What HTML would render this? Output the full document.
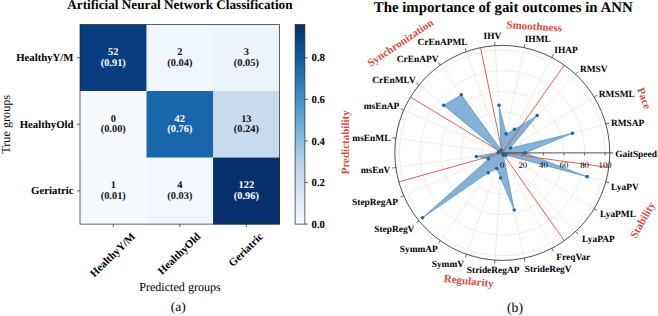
<!DOCTYPE html><html><head><meta charset="utf-8"><title>Figure</title>
<style>html,body{margin:0;padding:0;background:#fff}svg{display:block}text{font-family:"Liberation Serif","Times New Roman",serif;text-rendering:geometricPrecision;}</style></head><body>
<svg width="658" height="316" viewBox="0 0 658 316">
<rect width="658" height="316" fill="#fff"/>
<defs><linearGradient id="cb" x1="0" y1="1" x2="0" y2="0">
<stop offset="0%" stop-color="#f7fbff"/>
<stop offset="10%" stop-color="#e3eef9"/>
<stop offset="20%" stop-color="#d0e1f2"/>
<stop offset="30%" stop-color="#b7d4ea"/>
<stop offset="40%" stop-color="#94c4df"/>
<stop offset="50%" stop-color="#6aaed6"/>
<stop offset="60%" stop-color="#4a98c9"/>
<stop offset="70%" stop-color="#2e7ebc"/>
<stop offset="80%" stop-color="#1764ab"/>
<stop offset="90%" stop-color="#084a91"/>
<stop offset="100%" stop-color="#08306b"/>
</linearGradient></defs>
<rect x="80.00" y="24.50" width="66.83" height="66.83" fill="#083d7f"/>
<rect x="146.53" y="24.50" width="66.83" height="66.83" fill="#eff6fc"/>
<rect x="213.07" y="24.50" width="66.83" height="66.83" fill="#edf4fc"/>
<rect x="80.00" y="91.03" width="66.83" height="66.83" fill="#f7fbff"/>
<rect x="146.53" y="91.03" width="66.83" height="66.83" fill="#1966ad"/>
<rect x="213.07" y="91.03" width="66.83" height="66.83" fill="#c6dbef"/>
<rect x="80.00" y="157.57" width="66.83" height="66.83" fill="#f5fafe"/>
<rect x="146.53" y="157.57" width="66.83" height="66.83" fill="#f1f7fd"/>
<rect x="213.07" y="157.57" width="66.83" height="66.83" fill="#08306b"/>
<rect x="80.0" y="24.5" width="199.6" height="199.6" fill="none" stroke="#222" stroke-width="0.7"/>
<text x="113.27" y="55.27" text-anchor="middle" font-size="10.4" font-weight="bold" fill="#fff">52</text>
<text x="113.27" y="65.87" text-anchor="middle" font-size="10.4" font-weight="bold" fill="#fff">(0.91)</text>
<text x="179.80" y="55.27" text-anchor="middle" font-size="10.4" font-weight="bold" fill="#111">2</text>
<text x="179.80" y="65.87" text-anchor="middle" font-size="10.4" font-weight="bold" fill="#111">(0.04)</text>
<text x="246.33" y="55.27" text-anchor="middle" font-size="10.4" font-weight="bold" fill="#111">3</text>
<text x="246.33" y="65.87" text-anchor="middle" font-size="10.4" font-weight="bold" fill="#111">(0.05)</text>
<text x="113.27" y="121.80" text-anchor="middle" font-size="10.4" font-weight="bold" fill="#111">0</text>
<text x="113.27" y="132.40" text-anchor="middle" font-size="10.4" font-weight="bold" fill="#111">(0.00)</text>
<text x="179.80" y="121.80" text-anchor="middle" font-size="10.4" font-weight="bold" fill="#fff">42</text>
<text x="179.80" y="132.40" text-anchor="middle" font-size="10.4" font-weight="bold" fill="#fff">(0.76)</text>
<text x="246.33" y="121.80" text-anchor="middle" font-size="10.4" font-weight="bold" fill="#111">13</text>
<text x="246.33" y="132.40" text-anchor="middle" font-size="10.4" font-weight="bold" fill="#111">(0.24)</text>
<text x="113.27" y="188.33" text-anchor="middle" font-size="10.4" font-weight="bold" fill="#111">1</text>
<text x="113.27" y="198.93" text-anchor="middle" font-size="10.4" font-weight="bold" fill="#111">(0.01)</text>
<text x="179.80" y="188.33" text-anchor="middle" font-size="10.4" font-weight="bold" fill="#111">4</text>
<text x="179.80" y="198.93" text-anchor="middle" font-size="10.4" font-weight="bold" fill="#111">(0.03)</text>
<text x="246.33" y="188.33" text-anchor="middle" font-size="10.4" font-weight="bold" fill="#fff">122</text>
<text x="246.33" y="198.93" text-anchor="middle" font-size="10.4" font-weight="bold" fill="#fff">(0.96)</text>
<line x1="77.0" y1="57.77" x2="80.0" y2="57.77" stroke="#222" stroke-width="0.7"/>
<line x1="113.27" y1="224.1" x2="113.27" y2="227.1" stroke="#222" stroke-width="0.7"/>
<text x="73.50" y="61.37" text-anchor="end" font-size="10.75" font-weight="bold" fill="#000">HealthyY/M</text>
<text transform="translate(135.93,237.30) rotate(-44)" text-anchor="end" font-size="10.9" font-weight="bold" fill="#000">HealthyY/M</text>
<line x1="77.0" y1="124.30" x2="80.0" y2="124.30" stroke="#222" stroke-width="0.7"/>
<line x1="179.80" y1="224.1" x2="179.80" y2="227.1" stroke="#222" stroke-width="0.7"/>
<text x="73.50" y="127.90" text-anchor="end" font-size="10.75" font-weight="bold" fill="#000">HealthyOld</text>
<text transform="translate(201.20,237.30) rotate(-44)" text-anchor="end" font-size="10.9" font-weight="bold" fill="#000">HealthyOld</text>
<line x1="77.0" y1="190.83" x2="80.0" y2="190.83" stroke="#222" stroke-width="0.7"/>
<line x1="246.33" y1="224.1" x2="246.33" y2="227.1" stroke="#222" stroke-width="0.7"/>
<text x="73.50" y="194.43" text-anchor="end" font-size="10.75" font-weight="bold" fill="#000">Geriatric</text>
<text transform="translate(263.71,237.30) rotate(-44)" text-anchor="end" font-size="10.9" font-weight="bold" fill="#000">Geriatric</text>
<text x="179.9" y="9.4" text-anchor="middle" font-size="13.2" font-weight="bold" fill="#000">Artificial Neural Network Classification</text>
<text transform="translate(9.8,124.3) rotate(-90)" text-anchor="middle" font-size="12.2" fill="#000">True groups</text>
<text x="180" y="291" text-anchor="middle" font-size="12.1" fill="#000">Predicted groups</text>
<text x="178.2" y="311" text-anchor="middle" font-size="13.5" fill="#000">(a)</text>
<rect x="295.1" y="24.5" width="9.799999999999955" height="199.6" fill="url(#cb)" stroke="#222" stroke-width="0.7"/>
<line x1="304.9" y1="224.10" x2="307.9" y2="224.10" stroke="#222" stroke-width="0.7"/>
<text x="311.5" y="227.80" font-size="10.75" font-weight="bold" fill="#000">0.0</text>
<line x1="304.9" y1="182.52" x2="307.9" y2="182.52" stroke="#222" stroke-width="0.7"/>
<text x="311.5" y="186.22" font-size="10.75" font-weight="bold" fill="#000">0.2</text>
<line x1="304.9" y1="140.93" x2="307.9" y2="140.93" stroke="#222" stroke-width="0.7"/>
<text x="311.5" y="144.63" font-size="10.75" font-weight="bold" fill="#000">0.4</text>
<line x1="304.9" y1="99.35" x2="307.9" y2="99.35" stroke="#222" stroke-width="0.7"/>
<text x="311.5" y="103.05" font-size="10.75" font-weight="bold" fill="#000">0.6</text>
<line x1="304.9" y1="57.77" x2="307.9" y2="57.77" stroke="#222" stroke-width="0.7"/>
<text x="311.5" y="61.47" font-size="10.75" font-weight="bold" fill="#000">0.8</text>
<circle cx="502.3" cy="152.9" r="20.56" fill="none" stroke="#e3e3e3" stroke-width="0.6"/>
<circle cx="502.3" cy="152.9" r="41.12" fill="none" stroke="#e3e3e3" stroke-width="0.6"/>
<circle cx="502.3" cy="152.9" r="61.68" fill="none" stroke="#e3e3e3" stroke-width="0.6"/>
<circle cx="502.3" cy="152.9" r="82.24" fill="none" stroke="#e3e3e3" stroke-width="0.6"/>
<circle cx="502.3" cy="152.9" r="102.80" fill="none" stroke="#e3e3e3" stroke-width="0.6"/>
<line x1="502.3" y1="152.9" x2="605.81" y2="123.90" stroke="#e3e3e3" stroke-width="0.6"/>
<line x1="502.3" y1="152.9" x2="594.15" y2="97.04" stroke="#e3e3e3" stroke-width="0.6"/>
<line x1="502.3" y1="152.9" x2="575.67" y2="74.34" stroke="#e3e3e3" stroke-width="0.6"/>
<line x1="502.3" y1="152.9" x2="551.76" y2="57.45" stroke="#e3e3e3" stroke-width="0.6"/>
<line x1="502.3" y1="152.9" x2="524.17" y2="47.65" stroke="#e3e3e3" stroke-width="0.6"/>
<line x1="502.3" y1="152.9" x2="494.96" y2="45.65" stroke="#e3e3e3" stroke-width="0.6"/>
<line x1="502.3" y1="152.9" x2="466.30" y2="51.61" stroke="#e3e3e3" stroke-width="0.6"/>
<line x1="502.3" y1="152.9" x2="440.31" y2="65.08" stroke="#e3e3e3" stroke-width="0.6"/>
<line x1="502.3" y1="152.9" x2="418.91" y2="85.06" stroke="#e3e3e3" stroke-width="0.6"/>
<line x1="502.3" y1="152.9" x2="403.70" y2="110.07" stroke="#e3e3e3" stroke-width="0.6"/>
<line x1="502.3" y1="152.9" x2="395.80" y2="138.26" stroke="#e3e3e3" stroke-width="0.6"/>
<line x1="502.3" y1="152.9" x2="395.80" y2="167.54" stroke="#e3e3e3" stroke-width="0.6"/>
<line x1="502.3" y1="152.9" x2="403.70" y2="195.73" stroke="#e3e3e3" stroke-width="0.6"/>
<line x1="502.3" y1="152.9" x2="418.91" y2="220.74" stroke="#e3e3e3" stroke-width="0.6"/>
<line x1="502.3" y1="152.9" x2="440.31" y2="240.72" stroke="#e3e3e3" stroke-width="0.6"/>
<line x1="502.3" y1="152.9" x2="466.30" y2="254.19" stroke="#e3e3e3" stroke-width="0.6"/>
<line x1="502.3" y1="152.9" x2="494.96" y2="260.15" stroke="#e3e3e3" stroke-width="0.6"/>
<line x1="502.3" y1="152.9" x2="524.17" y2="258.15" stroke="#e3e3e3" stroke-width="0.6"/>
<line x1="502.3" y1="152.9" x2="551.76" y2="248.35" stroke="#e3e3e3" stroke-width="0.6"/>
<line x1="502.3" y1="152.9" x2="575.67" y2="231.46" stroke="#e3e3e3" stroke-width="0.6"/>
<line x1="502.3" y1="152.9" x2="594.15" y2="208.76" stroke="#e3e3e3" stroke-width="0.6"/>
<line x1="502.3" y1="152.9" x2="605.81" y2="181.90" stroke="#e3e3e3" stroke-width="0.6"/>
<polygon points="525.22,152.90 572.48,133.24 510.47,147.93 537.17,115.56 514.55,129.26 506.25,133.88 499.04,105.31 501.27,149.99 461.28,94.78 443.69,105.22 499.47,151.67 498.23,152.34 476.43,156.46 488.44,158.92 422.56,217.78 488.25,172.80 496.72,168.59 500.58,178.03 514.18,210.07 503.48,155.18 504.40,155.15 505.99,155.14 587.13,176.67" fill="#3f88c5" fill-opacity="0.64" stroke="#3a7fbd" stroke-width="0.5" stroke-linejoin="round"/>
<line x1="502.3" y1="152.9" x2="564.27" y2="65.06" stroke="#d6503f" stroke-width="0.9"/>
<line x1="502.3" y1="152.9" x2="480.50" y2="47.63" stroke="#d6503f" stroke-width="0.9"/>
<line x1="502.3" y1="152.9" x2="410.45" y2="97.05" stroke="#d6503f" stroke-width="0.9"/>
<line x1="502.3" y1="152.9" x2="398.79" y2="181.90" stroke="#d6503f" stroke-width="0.9"/>
<line x1="502.3" y1="152.9" x2="564.27" y2="240.74" stroke="#d6503f" stroke-width="0.9"/>
<line x1="502.3" y1="152.9" x2="608.81" y2="167.49" stroke="#d6503f" stroke-width="0.9"/>
<line x1="502.3" y1="152.9" x2="613.3" y2="152.9" stroke="#222" stroke-width="0.8"/>
<circle cx="525.22" cy="152.90" r="1.8" fill="#1f6796"/>
<circle cx="572.48" cy="133.24" r="1.8" fill="#1f6796"/>
<circle cx="510.47" cy="147.93" r="1.8" fill="#1f6796"/>
<circle cx="537.17" cy="115.56" r="1.8" fill="#1f6796"/>
<circle cx="514.55" cy="129.26" r="1.8" fill="#1f6796"/>
<circle cx="506.25" cy="133.88" r="1.8" fill="#1f6796"/>
<circle cx="499.04" cy="105.31" r="1.8" fill="#1f6796"/>
<circle cx="501.27" cy="149.99" r="1.8" fill="#1f6796"/>
<circle cx="461.28" cy="94.78" r="1.8" fill="#1f6796"/>
<circle cx="443.69" cy="105.22" r="1.8" fill="#1f6796"/>
<circle cx="499.47" cy="151.67" r="1.8" fill="#1f6796"/>
<circle cx="498.23" cy="152.34" r="1.8" fill="#1f6796"/>
<circle cx="476.43" cy="156.46" r="1.8" fill="#1f6796"/>
<circle cx="488.44" cy="158.92" r="1.8" fill="#1f6796"/>
<circle cx="422.56" cy="217.78" r="1.8" fill="#1f6796"/>
<circle cx="488.25" cy="172.80" r="1.8" fill="#1f6796"/>
<circle cx="496.72" cy="168.59" r="1.8" fill="#1f6796"/>
<circle cx="500.58" cy="178.03" r="1.8" fill="#1f6796"/>
<circle cx="514.18" cy="210.07" r="1.8" fill="#1f6796"/>
<circle cx="503.48" cy="155.18" r="1.8" fill="#1f6796"/>
<circle cx="504.40" cy="155.15" r="1.8" fill="#1f6796"/>
<circle cx="505.99" cy="155.14" r="1.8" fill="#1f6796"/>
<circle cx="587.13" cy="176.67" r="1.8" fill="#1f6796"/>
<circle cx="502.3" cy="152.9" r="107.5" fill="none" stroke="#222" stroke-width="0.8"/>
<line x1="605.81" y1="123.90" x2="609.18" y2="122.95" stroke="#222" stroke-width="0.7"/>
<line x1="594.15" y1="97.04" x2="597.14" y2="95.23" stroke="#222" stroke-width="0.7"/>
<line x1="575.67" y1="74.34" x2="578.06" y2="71.78" stroke="#222" stroke-width="0.7"/>
<line x1="551.76" y1="57.45" x2="553.37" y2="54.34" stroke="#222" stroke-width="0.7"/>
<line x1="524.17" y1="47.65" x2="524.88" y2="44.22" stroke="#222" stroke-width="0.7"/>
<line x1="494.96" y1="45.65" x2="494.73" y2="42.16" stroke="#222" stroke-width="0.7"/>
<line x1="466.30" y1="51.61" x2="465.13" y2="48.31" stroke="#222" stroke-width="0.7"/>
<line x1="440.31" y1="65.08" x2="438.29" y2="62.22" stroke="#222" stroke-width="0.7"/>
<line x1="418.91" y1="85.06" x2="416.20" y2="82.85" stroke="#222" stroke-width="0.7"/>
<line x1="403.70" y1="110.07" x2="400.49" y2="108.68" stroke="#222" stroke-width="0.7"/>
<line x1="395.80" y1="138.26" x2="392.33" y2="137.79" stroke="#222" stroke-width="0.7"/>
<line x1="395.80" y1="167.54" x2="392.33" y2="168.01" stroke="#222" stroke-width="0.7"/>
<line x1="403.70" y1="195.73" x2="400.49" y2="197.12" stroke="#222" stroke-width="0.7"/>
<line x1="418.91" y1="220.74" x2="416.20" y2="222.95" stroke="#222" stroke-width="0.7"/>
<line x1="440.31" y1="240.72" x2="438.29" y2="243.58" stroke="#222" stroke-width="0.7"/>
<line x1="466.30" y1="254.19" x2="465.13" y2="257.49" stroke="#222" stroke-width="0.7"/>
<line x1="494.96" y1="260.15" x2="494.73" y2="263.64" stroke="#222" stroke-width="0.7"/>
<line x1="524.17" y1="258.15" x2="524.88" y2="261.58" stroke="#222" stroke-width="0.7"/>
<line x1="551.76" y1="248.35" x2="553.37" y2="251.46" stroke="#222" stroke-width="0.7"/>
<line x1="575.67" y1="231.46" x2="578.06" y2="234.02" stroke="#222" stroke-width="0.7"/>
<line x1="594.15" y1="208.76" x2="597.14" y2="210.57" stroke="#222" stroke-width="0.7"/>
<line x1="605.81" y1="181.90" x2="609.18" y2="182.85" stroke="#222" stroke-width="0.7"/>
<line x1="502.30" y1="152.9" x2="502.30" y2="155.4" stroke="#222" stroke-width="0.6"/>
<text x="502.30" y="167.6" text-anchor="middle" font-size="8.8" fill="#000">0</text>
<line x1="522.86" y1="152.9" x2="522.86" y2="155.4" stroke="#222" stroke-width="0.6"/>
<text x="522.86" y="167.6" text-anchor="middle" font-size="8.8" fill="#000">20</text>
<line x1="543.42" y1="152.9" x2="543.42" y2="155.4" stroke="#222" stroke-width="0.6"/>
<text x="543.42" y="167.6" text-anchor="middle" font-size="8.8" fill="#000">40</text>
<line x1="563.98" y1="152.9" x2="563.98" y2="155.4" stroke="#222" stroke-width="0.6"/>
<text x="563.98" y="167.6" text-anchor="middle" font-size="8.8" fill="#000">60</text>
<line x1="584.54" y1="152.9" x2="584.54" y2="155.4" stroke="#222" stroke-width="0.6"/>
<text x="584.54" y="167.6" text-anchor="middle" font-size="8.8" fill="#000">80</text>
<line x1="605.10" y1="152.9" x2="605.10" y2="155.4" stroke="#222" stroke-width="0.6"/>
<text x="605.10" y="167.6" text-anchor="middle" font-size="8.8" fill="#000">100</text>
<text x="615.2" y="156.5" text-anchor="start" font-size="9.4" font-weight="bold" fill="#000">GaitSpeed</text>
<text x="610.9" y="126.0" text-anchor="start" font-size="9.4" font-weight="bold" fill="#000">RMSAP</text>
<text x="598.8" y="97.0" text-anchor="start" font-size="9.4" font-weight="bold" fill="#000">RMSML</text>
<text x="580" y="71.8" text-anchor="start" font-size="9.4" font-weight="bold" fill="#000">RMSV</text>
<text x="554.3" y="52.6" text-anchor="start" font-size="9.4" font-weight="bold" fill="#000">IHAP</text>
<text x="524.7" y="41.6" text-anchor="start" font-size="9.4" font-weight="bold" fill="#000">IHML</text>
<text x="483.6" y="38.8" text-anchor="start" font-size="9.4" font-weight="bold" fill="#000">IHV</text>
<text x="467.6" y="45.3" text-anchor="end" font-size="9.4" font-weight="bold" fill="#000">CrEnAPML</text>
<text x="438.5" y="61.8" text-anchor="end" font-size="9.4" font-weight="bold" fill="#000">CrEnAPV</text>
<text x="415.7" y="83.3" text-anchor="end" font-size="9.4" font-weight="bold" fill="#000">CrEnMLV</text>
<text x="399.2" y="109.0" text-anchor="end" font-size="9.4" font-weight="bold" fill="#000">msEnAP</text>
<text x="390.4" y="140.6" text-anchor="end" font-size="9.4" font-weight="bold" fill="#000">msEnML</text>
<text x="390.4" y="172.9" text-anchor="end" font-size="9.4" font-weight="bold" fill="#000">msEnV</text>
<text x="397.9" y="204.5" text-anchor="end" font-size="9.4" font-weight="bold" fill="#000">StepRegAP</text>
<text x="414.4" y="231.5" text-anchor="end" font-size="9.4" font-weight="bold" fill="#000">StepRegV</text>
<text x="437.8" y="252.1" text-anchor="end" font-size="9.4" font-weight="bold" fill="#000">SymmAP</text>
<text x="464.0" y="266.5" text-anchor="end" font-size="9.4" font-weight="bold" fill="#000">SymmV</text>
<text x="466.8" y="273.3" text-anchor="start" font-size="9.4" font-weight="bold" fill="#000">StrideRegAP</text>
<text x="524.7" y="271.8" text-anchor="start" font-size="9.4" font-weight="bold" fill="#000">StrideRegV</text>
<text x="556.3" y="259.5" text-anchor="start" font-size="9.4" font-weight="bold" fill="#000">FreqVar</text>
<text x="614.7" y="242.3" text-anchor="end" font-size="9.4" font-weight="bold" fill="#000">LyaPAP</text>
<text x="600" y="217.0" text-anchor="start" font-size="9.4" font-weight="bold" fill="#000">LyaPML</text>
<text x="611.1" y="190.0" text-anchor="start" font-size="9.4" font-weight="bold" fill="#000">LyaPV</text>
<text transform="translate(637.0,89.3) rotate(70)" font-size="11" font-weight="bold" fill="#d6503f">Pace</text>
<text transform="translate(506.3,28.2) rotate(3.5)" font-size="11" font-weight="bold" fill="#d6503f">Smoothness</text>
<text transform="translate(370.4,67.0) rotate(-33.7)" font-size="11" font-weight="bold" fill="#d6503f">Synchronization</text>
<text transform="translate(348.9,174.3) rotate(-90)" font-size="11" font-weight="bold" fill="#d6503f">Predictability</text>
<text transform="translate(443.5,282.0) rotate(6)" font-size="11" font-weight="bold" fill="#d6503f">Regularity</text>
<text transform="translate(636,239.1) rotate(-60.5)" font-size="11" font-weight="bold" fill="#d6503f">Stability</text>
<text x="503.2" y="11.6" text-anchor="middle" font-size="14.85" font-weight="bold" fill="#000">The importance of gait outcomes in ANN</text>
<text x="515" y="311.5" text-anchor="middle" font-size="13.7" fill="#000">(b)</text>
</svg></body></html>
